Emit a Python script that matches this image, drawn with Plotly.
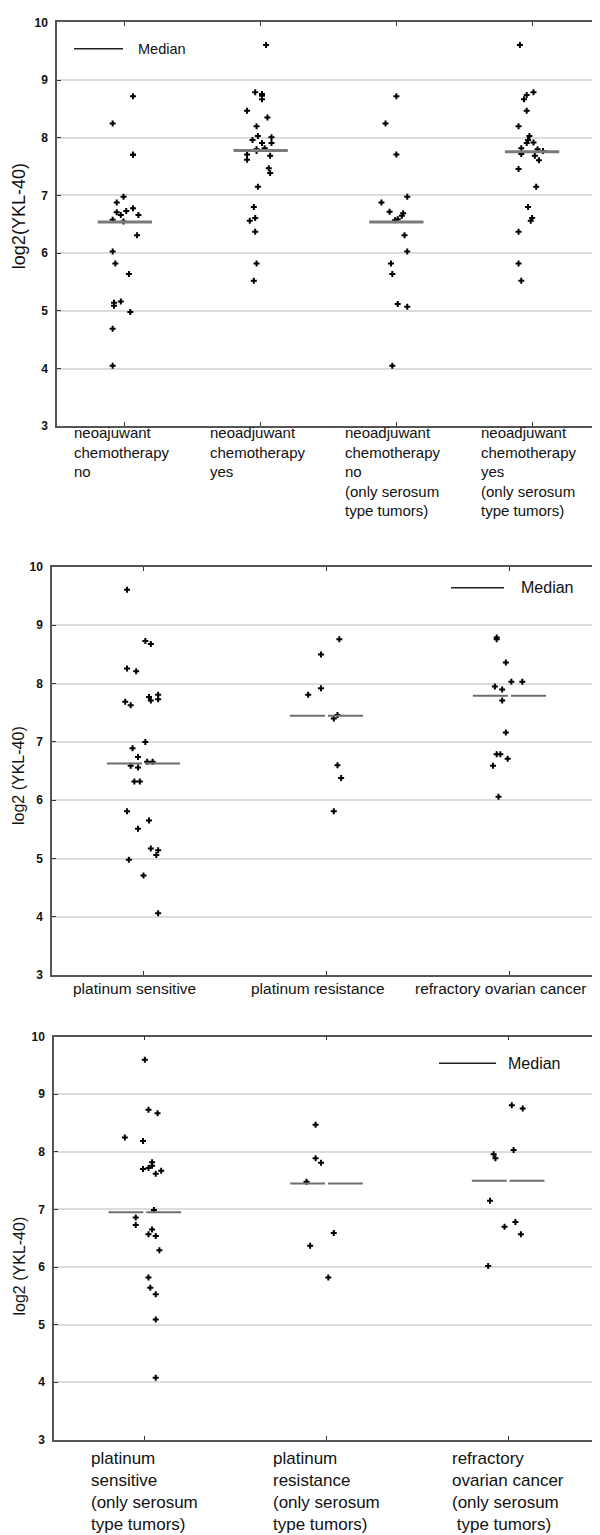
import plotly.graph_objects as go

W, H = 600, 1535

# ---------------- DATA ----------------
# Panel 1: neoadjuvant chemotherapy
p1_labels = [
    "neoajuwant<br>chemotherapy<br>no",
    "neoadjuwant<br>chemotherapy<br>yes",
    "neoadjuwant<br>chemotherapy<br>no<br>(only serosum<br>type tumors)",
    "neoadjuwant<br>chemotherapy<br>yes<br>(only serosum<br>type tumors)",
]
p1_no = [8.72, 8.25, 7.71, 7.70, 6.98, 6.88, 6.71, 6.66, 6.73, 6.78, 6.66, 6.58, 6.55,
         6.31, 6.03, 5.82, 5.64, 5.14, 5.09, 5.16, 4.98, 4.69, 4.05]
p1_no_dx = [0.06, -0.09, 0.06, 0.06, -0.01, -0.06, -0.06, -0.03, 0.01, 0.06, 0.10, -0.09, -0.01,
            0.09, -0.09, -0.07, 0.03, -0.08, -0.08, -0.03, 0.04, -0.09, -0.09]
p1_yes = [9.61, 8.79, 8.76, 8.73, 8.67, 8.47, 8.35, 8.20, 8.03, 7.96, 7.91, 8.01, 7.91,
          7.80, 7.77, 7.82, 7.71, 7.62, 7.69, 7.47, 7.39, 7.15, 6.80, 6.61, 6.56, 6.37,
          5.82, 5.52]
p1_yes_dx = [0.04, -0.04, 0.01, 0.01, 0.01, -0.10, 0.05, -0.03, -0.02, -0.06, 0.01, 0.08, 0.08,
             -0.03, -0.03, 0.03, -0.10, -0.10, 0.07, 0.06, 0.07, -0.02, -0.05, -0.04, -0.08, -0.04,
             -0.03, -0.05]
p1_no_ser = [8.72, 8.25, 7.71, 6.98, 6.88, 6.72, 6.69, 6.65, 6.57, 6.59, 6.31, 6.03, 5.82,
             5.64, 5.12, 5.07, 4.05]
p1_no_ser_dx = [0.00, -0.08, 0.00, 0.08, -0.11, -0.05, 0.05, 0.04, -0.01, 0.01, 0.06, 0.08, -0.04,
                -0.03, 0.01, 0.08, -0.03]
p1_yes_ser = [9.61, 8.79, 8.74, 8.67, 8.47, 8.20, 8.03, 7.96, 7.91, 7.92, 7.82, 7.72, 7.80,
              7.77, 7.69, 7.61, 7.46, 7.15, 6.80, 6.61, 6.56, 6.37, 5.82, 5.52]
p1_yes_ser_dx = [-0.09, 0.01, -0.04, -0.06, -0.04, -0.10, -0.02, -0.03, -0.04, 0.01, -0.08, -0.08, 0.04,
                 0.08, 0.02, 0.05, -0.10, 0.03, -0.03, 0.00, -0.01, -0.10, -0.10, -0.08]
p1_medians = [6.54, 7.78, 6.54, 7.76]

# Panel 2: platinum response
p2_labels = ["platinum sensitive", "platinum resistance", "refractory ovarian cancer"]
p2_sens = [9.61, 8.73, 8.68, 8.26, 8.21, 7.69, 7.63, 7.77, 7.71, 7.81, 7.73, 7.00, 6.89,
           6.74, 6.59, 6.56, 6.66, 6.66, 6.32, 6.32, 5.81, 5.65, 5.51, 5.17, 5.14, 5.06,
           4.98, 4.71, 4.06]
p2_sens_dx = [-0.09, 0.01, 0.04, -0.09, -0.04, -0.10, -0.07, 0.03, 0.04, 0.08, 0.08, 0.01, -0.06,
              -0.03, -0.07, -0.03, 0.02, 0.05, -0.05, -0.02, -0.09, 0.03, -0.03, 0.04, 0.08, 0.07,
              -0.08, 0.00, 0.08]
p2_res = [8.76, 8.50, 7.81, 7.92, 7.46, 7.40, 6.60, 6.38, 5.81]
p2_res_dx = [0.07, -0.03, -0.10, -0.03, 0.06, 0.04, 0.06, 0.08, 0.04]
p2_ref = [8.79, 8.76, 8.36, 8.03, 8.03, 7.95, 7.90, 7.71, 7.16, 6.79, 6.79, 6.71, 6.59, 6.06]
p2_ref_dx = [-0.07, -0.07, -0.02, 0.01, 0.07, -0.08, -0.04, -0.04, -0.02, -0.07, -0.05, -0.01, -0.09, -0.06]
p2_medians = [6.63, 7.45, 7.79]

# Panel 3: platinum response, only serosum type tumors
p3_labels = [
    "platinum<br>sensitive<br>(only serosum<br>type tumors)",
    "platinum<br>resistance<br>(only serosum<br>type tumors)",
    "refractory<br>ovarian cancer<br>(only serosum<br> type tumors)",
]
p3_sens = [9.60, 8.73, 8.67, 8.25, 8.19, 7.82, 7.76, 7.70, 7.72, 7.62, 7.67, 6.99, 6.86,
           6.73, 6.65, 6.57, 6.54, 6.29, 5.82, 5.64, 5.53, 5.09, 4.08]
p3_sens_dx = [0.00, 0.02, 0.07, -0.11, -0.01, 0.04, 0.04, -0.01, 0.02, 0.06, 0.09, 0.05, -0.05,
              -0.05, 0.04, 0.02, 0.06, 0.08, 0.02, 0.03, 0.06, 0.06, 0.06]
p3_res = [8.47, 7.89, 7.81, 7.48, 6.59, 6.37, 5.82]
p3_res_dx = [-0.06, -0.06, -0.03, -0.11, 0.04, -0.09, 0.01]
p3_ref = [8.81, 8.75, 8.03, 7.96, 7.89, 7.15, 6.78, 6.70, 6.57, 6.02]
p3_ref_dx = [0.02, 0.08, 0.03, -0.08, -0.07, -0.10, 0.04, -0.02, 0.07, -0.11]
p3_medians = [6.95, 7.45, 7.50]

y_ticks = [3, 4, 5, 6, 7, 8, 9, 10]
legend_text = "Median"
y_titles = ["log2(YKL-40)", "log2 (YKL-40)", "log2 (YKL-40)"]

# ---------------- LAYOUT HELPERS ----------------
def px(xp):
    return xp / W

def py(yp):
    return 1 - yp / H

panels = [
    dict(groups=[(p1_no, p1_no_dx), (p1_yes, p1_yes_dx), (p1_no_ser, p1_no_ser_dx), (p1_yes_ser, p1_yes_ser_dx)],
         medians=p1_medians, labels=p1_labels, xdom=(49, 592), ydom=(7.5, 415),
         med_w=3, med_gap=0.0, med_color="#7a7a7a",
         leg=(66, 115, 34, 128), leg_size=14.5, title_x=11, title_y=203, title_size=18,
         lab_top=411, lab_size=15, lab_align="left", lab_shift=-3),
    dict(groups=[(p2_sens, p2_sens_dx), (p2_res, p2_res_dx), (p2_ref, p2_ref_dx)],
         medians=p2_medians, labels=p2_labels, xdom=(44, 593), ydom=(557, 969),
         med_w=2, med_gap=0.008, med_color="#6e6e6e",
         leg=(443, 496, 578, 511), leg_size=16, title_x=11, title_y=768, title_size=16,
         lab_top=972, lab_size=15.5, lab_align="center", lab_shift=-9),
    dict(groups=[(p3_sens, p3_sens_dx), (p3_res, p3_res_dx), (p3_ref, p3_ref_dx)],
         medians=p3_medians, labels=p3_labels, xdom=(46, 591), ydom=(1031, 1438),
         med_w=2, med_gap=0.008, med_color="#6e6e6e",
         leg=(431, 488, 1058, 498), leg_size=16, title_x=11, title_y=1263, title_size=16,
         lab_top=1445, lab_size=17, lab_align="left", lab_shift=0),
]

fig = go.Figure()
annotations = []
shapes = []
layout_axes = {}

for i, p in enumerate(panels):
    sfx = "" if i == 0 else str(i + 1)
    xa, ya = "x" + sfx, "y" + sfx
    n = len(p["groups"])
    for c, (vals, dx) in enumerate(p["groups"]):
        fig.add_trace(go.Scatter(
            x=[c + d for d in dx], y=vals, mode="markers",
            marker=dict(symbol="cross", size=5, color="black"),
            xaxis=xa, yaxis=ya, showlegend=False, hoverinfo="y"))
    # medians
    mx, my = [], []
    for c, m in enumerate(p["medians"]):
        if p["med_gap"] > 0:
            mx += [c - 0.2, c - p["med_gap"], None, c + p["med_gap"], c + 0.2, None]
            my += [m, m, None, m, m, None]
        else:
            mx += [c - 0.2, c + 0.2, None]
            my += [m, m, None]
    fig.add_trace(go.Scatter(x=mx, y=my, mode="lines",
                             line=dict(color=p["med_color"], width=p["med_w"]),
                             xaxis=xa, yaxis=ya, showlegend=False, hoverinfo="skip"))

    x0, x1 = p["xdom"]
    y0, y1 = p["ydom"]
    layout_axes["xaxis" + sfx] = dict(
        domain=[px(x0), px(x1)], range=[-0.5, n - 0.5], anchor=ya,
        tickvals=list(range(n)), showticklabels=False,
        ticks="inside", ticklen=4, tickwidth=1, tickcolor="#333",
        showline=True, linecolor="#555", linewidth=1.5, mirror="ticks",
        showgrid=False, zeroline=False, fixedrange=True)
    layout_axes["yaxis" + sfx] = dict(
        domain=[py(y1), py(y0)], range=[3, 10], anchor=xa,
        tickvals=y_ticks, ticktext=[str(t) for t in y_ticks],
        ticks="inside", ticklen=4, tickwidth=1, tickcolor="#333",
        ticklabelstandoff=5,
        tickfont=dict(family="Liberation Sans, Arial", size=12, color="#111", weight="bold"),
        showline=True, linecolor="#555", linewidth=1.5, mirror="ticks",
        showgrid=True, gridcolor="#dcdcdc", gridwidth=1.5, zeroline=False, fixedrange=True)

    # category labels
    for c, lab in enumerate(p["labels"]):
        annotations.append(dict(
            x=c, xref=xa, y=py(p["lab_top"]), yref="paper",
            text=lab, showarrow=False, xanchor="center", yanchor="top",
            align=p["lab_align"], xshift=p["lab_shift"],
            font=dict(family="Liberation Sans, Arial", size=p["lab_size"], color="#111")))

    # y title
    annotations.append(dict(
        x=px(p["title_x"]), xref="paper", y=py(p["title_y"]), yref="paper",
        text=y_titles[i], showarrow=False, textangle=-90,
        xanchor="center", yanchor="middle",
        font=dict(family="Liberation Sans, Arial", size=p["title_size"], color="#111")))

    # legend
    lx0, lx1, ly, tx = p["leg"]
    shapes.append(dict(type="line", xref="paper", yref="paper",
                       x0=px(lx0), x1=px(lx1), y0=py(ly), y1=py(ly),
                       line=dict(color="#222", width=1.5)))
    annotations.append(dict(
        x=px(tx), xref="paper", y=py(ly), yref="paper", text=legend_text,
        showarrow=False, xanchor="left", yanchor="middle",
        font=dict(family="Liberation Sans, Arial", size=p["leg_size"], color="#111")))

fig.update_layout(
    width=W, height=H, autosize=False,
    margin=dict(l=0, r=0, t=0, b=0, pad=0),
    paper_bgcolor="white", plot_bgcolor="white",
    showlegend=False,
    annotations=annotations, shapes=shapes,
    **layout_axes)

fig.write_html("out.html")
